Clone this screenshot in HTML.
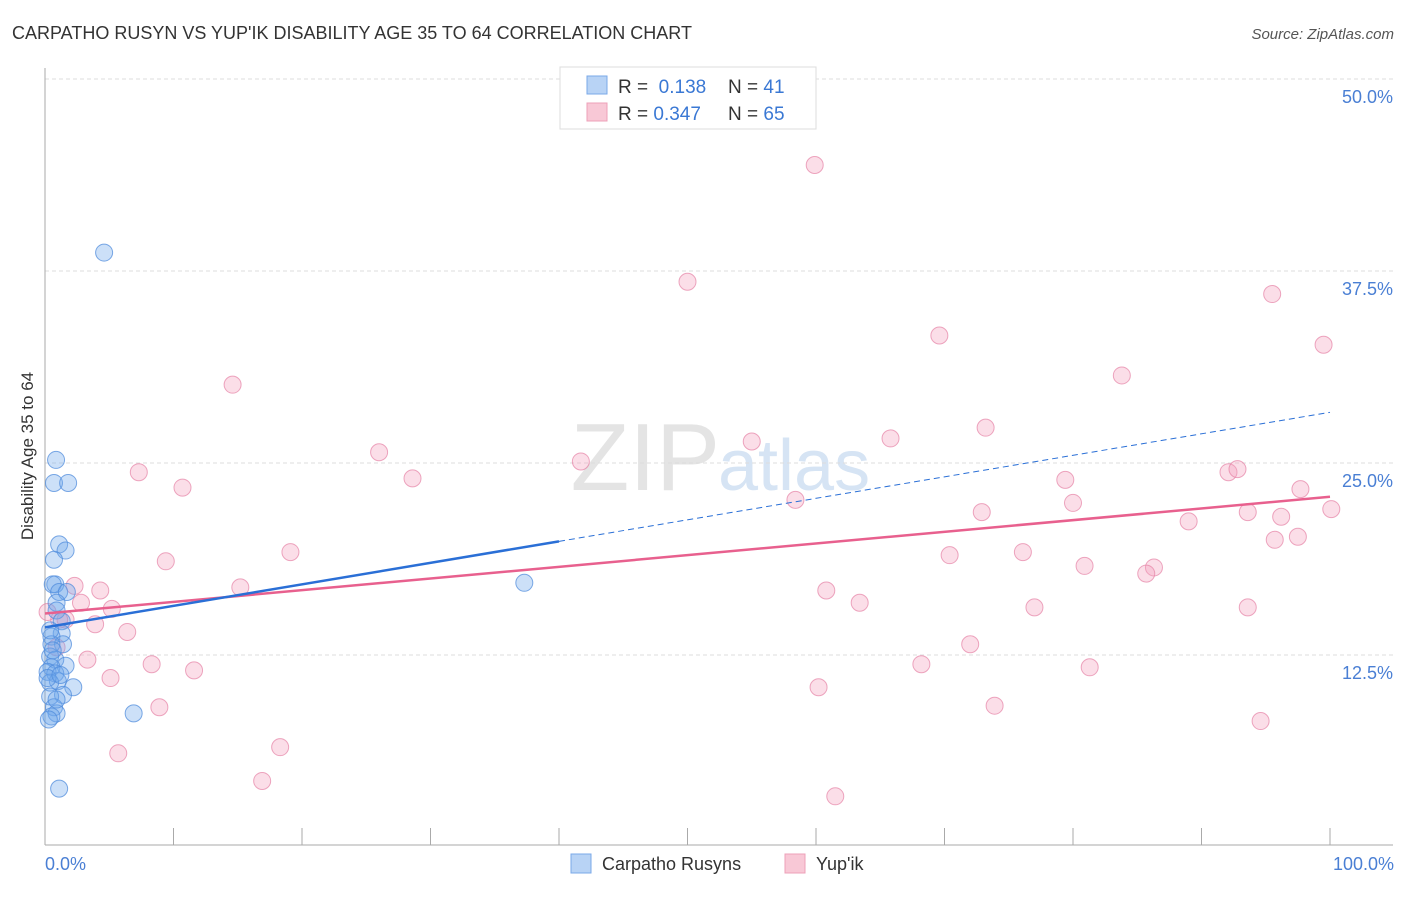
<!DOCTYPE html>
<html><head><meta charset="utf-8"><style>
body{margin:0;background:#fff;font-family:"Liberation Sans",sans-serif}
svg text{font-family:"Liberation Sans",sans-serif}
</style></head><body>
<svg width="1406" height="892" xmlns="http://www.w3.org/2000/svg">
<text x="12" y="39" font-size="18" fill="#333">CARPATHO RUSYN VS YUP'IK DISABILITY AGE 35 TO 64 CORRELATION CHART</text>
<text x="1394" y="39" font-size="15" fill="#555" text-anchor="end" font-style="italic">Source: ZipAtlas.com</text>
<text x="720" y="490" font-size="96" fill="#e4e4e4" text-anchor="end" font-family="Liberation Serif">ZIP</text>
<text x="718" y="490" font-size="72" fill="#d6e4f4">atlas</text>
<g id="grid"></g>
<g id="axes"></g>
<g id="pts"></g>
<g id="lines"></g>
<text transform="translate(33,456) rotate(-90)" font-size="17" fill="#333" text-anchor="middle">Disability Age 35 to 64</text>
<text x="45" y="870" font-size="18" fill="#4a7fd4">0.0%</text>
<text x="1394" y="870" font-size="18" fill="#4a7fd4" text-anchor="end">100.0%</text>
<g>
<rect x="560" y="67" width="256" height="62" fill="#fff" stroke="#ddd"/>
<rect x="587" y="76" width="20" height="18" fill="#b8d3f5" stroke="#7aa8e8"/>
<rect x="587" y="103" width="20" height="18" fill="#f8c8d6" stroke="#eea0b8"/>
<text x="618" y="93" font-size="19" fill="#333">R = <tspan fill="#3a78d4">&#160;0.138</tspan><tspan x="728">N = </tspan><tspan fill="#3a78d4"> 41</tspan></text>
<text x="618" y="120" font-size="19" fill="#333">R = <tspan fill="#3a78d4">0.347</tspan><tspan x="728">N = </tspan><tspan fill="#3a78d4">65</tspan></text>
</g>
<g>
<rect x="571" y="854" width="20" height="19" fill="#b8d3f5" stroke="#7aa8e8"/>
<text x="602" y="870" font-size="18" fill="#333">Carpatho Rusyns</text>
<rect x="785" y="854" width="20" height="19" fill="#f8c8d6" stroke="#eea0b8"/>
<text x="816" y="870" font-size="18" fill="#333">Yup'ik</text>
</g>
</svg>
<script>
const yTicks=[12.5,25,37.5,50];
const yTickLabels=["12.5%","25.0%","37.5%","50.0%"];
const xTicks=[10,20,30,40,50,60,70,80,90,100];
const blueX=[4.6,0.86,0.7,1.8,1.1,1.6,0.7,0.8,0.6,1.1,1.7,0.9,0.9,1.3,1.3,0.5,1.4,0.5,0.4,0.8,1.6,0.5,0.2,0.8,1.0,0.4,2.2,1.4,0.4,0.7,0.9,0.5,0.3,6.9,1.1,37.3,0.2,0.6,1.2,0.4,0.9];
const blueY=[38.7,25.2,23.7,23.7,19.7,19.3,18.7,17.1,17.1,16.6,16.6,15.9,15.4,14.7,13.9,13.7,13.2,13.2,12.4,12.2,11.8,11.7,11.4,11.3,10.8,10.7,10.4,9.9,9.8,9.1,8.7,8.5,8.3,8.7,3.8,17.2,11.0,12.8,11.2,14.1,9.6];
const pinkX=[59.9,50.0,95.5,69.6,99.5,14.6,83.8,26.0,55.0,65.8,73.2,41.7,7.3,28.6,10.7,79.4,92.1,92.8,97.7,58.4,80.0,72.9,93.6,96.2,100.1,89.0,95.7,97.5,19.1,76.1,70.4,9.4,80.9,86.3,85.7,15.2,2.3,4.3,60.8,2.8,63.4,5.2,77.0,93.6,1.6,3.9,6.4,72.0,3.3,8.3,11.6,68.2,81.3,5.1,60.2,8.9,73.9,94.6,18.3,5.7,16.9,61.5,1.1,0.9,0.2];
const pinkY=[44.4,36.8,36.0,33.3,32.7,30.1,30.7,25.7,26.4,26.6,27.3,25.1,24.4,24.0,23.4,23.9,24.4,24.6,23.3,22.6,22.4,21.8,21.8,21.5,22.0,21.2,20.0,20.2,19.2,19.2,19.0,18.6,18.3,18.2,17.8,16.9,17.0,16.7,16.7,15.9,15.9,15.5,15.6,15.6,14.8,14.5,14.0,13.2,12.2,11.9,11.5,11.9,11.7,11.0,10.4,9.1,9.2,8.2,6.5,6.1,4.3,3.3,14.8,13.0,15.3];
const blueTrend=[14.3,28.3]; const blueSolidEnd=40;
const pinkTrend=[15.2,22.8];
const X=p=>45+p*12.85, Y=v=>847-v*15.36;
const NS="http://www.w3.org/2000/svg";
function mk(t,a,parent){const e=document.createElementNS(NS,t);for(const k in a)e.setAttribute(k,a[k]);document.getElementById(parent).appendChild(e);return e;}
yTicks.forEach((v,i)=>{
 const l=mk('line',{x1:45,x2:1393,y1:Y(v),y2:Y(v),stroke:'#ddd','stroke-dasharray':'4,3'},'grid');
 
 
 const t=mk('text',{x:1393,y:Y(v)+24,'font-size':18,fill:'#4a7fd4','text-anchor':'end'},'grid');
 t.textContent=yTickLabels[i];
 
 
});
let a=mk('line',{x1:45,x2:45,y1:68,y2:845,stroke:'#aaa'},'axes');


a=mk('line',{x1:45,x2:1393,y1:845,y2:845,stroke:'#aaa'},'axes');


xTicks.forEach(p=>{const t=mk('line',{x1:X(p),x2:X(p),y1:828,y2:845,stroke:'#aaa'},'axes');
 
 });
pinkX.forEach((p,i)=>{const c=mk('circle',{cx:X(p),cy:Y(pinkY[i]),r:8.5,fill:'rgba(244,160,190,0.35)',stroke:'rgba(230,130,165,0.7)','stroke-width':1},'pts');
 
 });
blueX.forEach((p,i)=>{const c=mk('circle',{cx:X(p),cy:Y(blueY[i]),r:8.5,fill:'rgba(110,165,235,0.35)',stroke:'rgba(80,140,220,0.75)','stroke-width':1},'pts');
 
 });
const bAt=p=>blueTrend[0]+(blueTrend[1]-blueTrend[0])*p/100;
let l=mk('line',{x1:X(0),y1:Y(pinkTrend[0]),x2:X(100),y2:Y(pinkTrend[1]),stroke:'#e8608e','stroke-width':2.5},'lines');


l=mk('line',{x1:X(0),y1:Y(bAt(0)),x2:X(blueSolidEnd),y2:Y(bAt(blueSolidEnd)),stroke:'#2a6fd6','stroke-width':2.5},'lines');


l=mk('line',{x1:X(blueSolidEnd),y1:Y(bAt(blueSolidEnd)),x2:X(100),y2:Y(bAt(100)),stroke:'#2a6fd6','stroke-width':1,'stroke-dasharray':'6,4'},'lines');


</script>
</body></html>
